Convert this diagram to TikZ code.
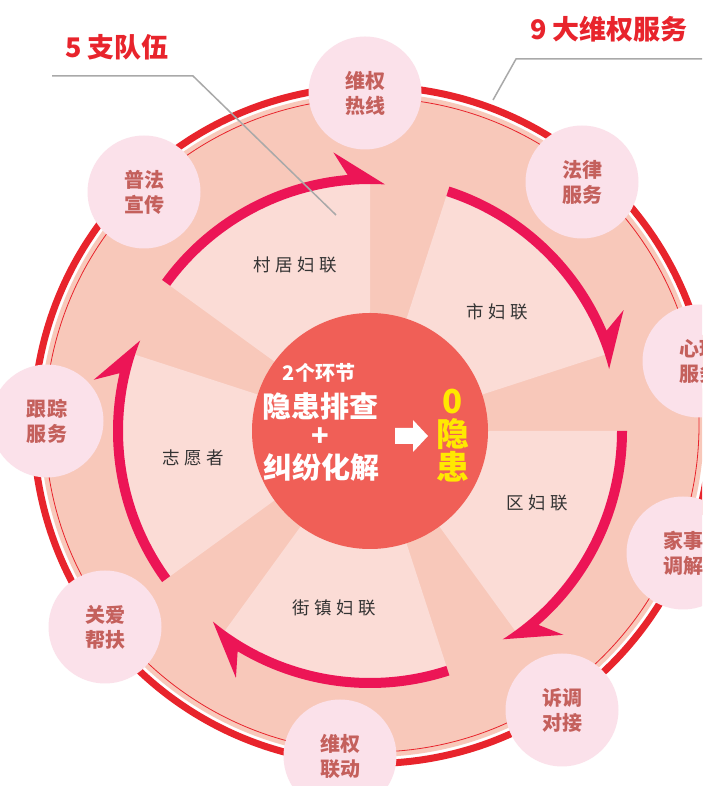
\documentclass[tikz,border=0pt]{standalone}
\usepackage{fontspec}
\newfontfamily\cjk{Noto Sans CJK SC}
\newfontfamily\cjkspaced[LetterSpace=25]{Noto Sans CJK SC}
\usetikzlibrary{positioning, calc}
\definecolor{ringred}{HTML}{E8242C}
\definecolor{salmon}{HTML}{F8C8BA}
\definecolor{petal}{HTML}{FBDCD6}
\definecolor{hub}{HTML}{F05F57}
\definecolor{arrowred}{HTML}{EC1556}
\definecolor{bubble}{HTML}{FBE1EA}
\definecolor{bubbletext}{HTML}{C4605C}
\definecolor{leader}{HTML}{A9A9A9}
\definecolor{goldtext}{HTML}{FFE800}
\tikzset{
    service/.style={circle, fill=bubble, minimum size=113pt, inner sep=0pt, align=center,
        text=bubbletext, font=\cjk\bfseries\fontsize{20}{25}\selectfont},
    team/.style={text=black!80, font=\cjkspaced\fontsize{17.5}{20}\selectfont},
    title/.style={text=ringred, font=\cjk\bfseries\fontsize{27}{30}\selectfont},
    hubtext/.style={text=white, font=\cjk\bfseries\fontsize{#1}{#1}\selectfont},
    hubtext/.default=29,
    leader line/.style={draw=leader, line width=1.5pt}
}

\begin{document}
\begin{tikzpicture}[x=1pt, y=1pt]
        \coordinate (SW) at (0,0); \coordinate (NE) at (702,786);
        \useasboundingbox (SW) rectangle (NE);
        \fill[white] (SW) rectangle (NE);
        \clip (SW) rectangle (NE);
        \coordinate (O) at (372,361); % ring centre
        \coordinate (C) at (370,355); % hub centre
        %Rings
        \fill[salmon] (O) circle[radius=332];
        \draw[ringred, line width=7pt] (O) circle[radius=338.5];
        \draw[ringred, line width=0.8pt] (O) circle[radius=327];
        %Petals
        \foreach \a in {144,72,0,-72,-144}{
            \fill[petal] (C) -- ($(C)+(\a:252)$) arc[start angle=\a, delta angle=-54, radius=252] -- cycle;
        }
        %Cycle arrows (harpoon heads, clockwise)
        \foreach \a [evaluate=\a as \tipang using \a-57.5,
                     evaluate=\a as \barbang using \a-46.5,
                     evaluate=\a as \notchang using \a-49] in {144,72,0,-72,-144}{
            \fill[arrowred] ($(C)+(\a:247)$) arc[start angle=\a, end angle=\tipang, radius=247]
                -- ($(C)+(\barbang:281)$) -- ($(C)+(\notchang:257)$)
                arc[start angle=\notchang, end angle=\a, radius=257] -- cycle;
        }
        %Teams
        \node[team] (village) at (295,521) {村居妇联};
        \node[team] (city) at (497,474) {市妇联};
        \node[team] (district) at (537,283) {区妇联};
        \node[team] (street) at (334,178) {街镇妇联};
        \node[team] (volunteer) at (193,328) {志愿者};
        %Hub
        \fill[hub] (C) circle[radius=118];
        \node[hubtext=20] (steps) at (319,413) {2个环节};
        \node[hubtext] (check) at (320,379) {隐患排查};
        \node[hubtext] (plus) at (320,349) {+};
        \node[hubtext] (solve) at (321,319) {纠纷化解};
        \coordinate (go) at (395,350);
        \fill[white] (go) ++(0,8) -- ++(18,0) -- ++(0,8) -- ++(15,-16) -- ++(-15,-16) -- ++(0,8) -- ++(-18,0) -- cycle;
        \node[hubtext=33, text=goldtext, align=center] (zero) at (453,350) {0\\隐\\患};
        %Services
        \node[service] (hotline) at (365,693) {维权\\热线};
        \node[service] (legal) at (582,604) {法律\\服务};
        \node[service] (psych) at (699,425) {心理\\服务};
        \node[service] (family) at (683,233) {家事\\调解};
        \node[service] (court) at (562,76) {诉调\\对接};
        \node[service] (linkage) at (340,30) {维权\\联动};
        \node[service] (care) at (105,159) {关爱\\帮扶};
        \node[service] (followup) at (47,365) {跟踪\\服务};
        \node[service] (publicity) at (144,594) {普法\\宣传};
        %Titles and leaders
        \node[title] (teams) at (117,739) {5 支队伍};
        \node[title] (services) at (609,757) {9 大维权服务};
        \coordinate (teamsA) at (52,710); \coordinate (teamsB) at (193,710); \coordinate (teamsC) at (336,571);
        \coordinate (servA) at (702,727); \coordinate (servB) at (516,727); \coordinate (servC) at (493,686);
        \draw[leader line] (teamsA) -- (teamsB) -- (teamsC);
        \draw[leader line] (servA) -- (servB) -- (servC);
    \end{tikzpicture}
\end{document}
